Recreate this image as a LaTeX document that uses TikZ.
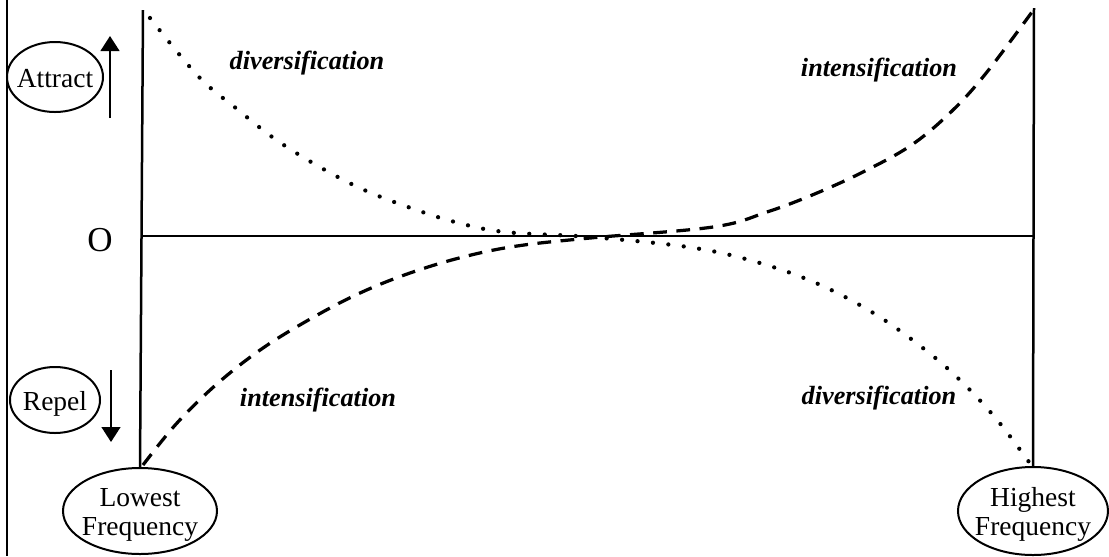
\documentclass[tikz,border=0pt]{standalone}
\usepackage{fontspec}
\setmainfont{Liberation Serif}
\usetikzlibrary{shapes.geometric,arrows.meta}
\newcommand{\ovaltext}[1]{\makebox[0pt]{\raisebox{-4.5pt}[0pt][0pt]{\begin{tabular}{@{}c@{}}#1\end{tabular}}}}
\begin{document}
\begin{tikzpicture}[x=0.4pt,y=-0.4pt,
  axis/.style={line width=1pt},
  oval/.style={draw,ellipse,line width=0.8pt,inner sep=0pt,font=\fontsize{11}{11.5}\selectfont},
  lab/.style={font=\fontsize{10.5}{12}\selectfont\itshape\bfseries,inner sep=0pt},
  dotcurve/.style={line width=1.7pt,line cap=round,dash pattern=on 0pt off 6.2pt},
  dashcurve/.style={line width=1.3pt,dash pattern=on 5.5pt off 3.8pt},
  arr/.style={line width=0.9pt,-{Triangle[length=6pt,width=7.5pt]}}]
\useasboundingbox (0,0) rectangle (1109,556);
% frame line
\coordinate (ftop) at (7,0);
\coordinate (fbot) at (7,556);
\draw[line width=0.9pt] (ftop) -- (fbot);
% ovals
\node[oval,minimum width=96*0.4pt,minimum height=70*0.4pt] (attract) at (55,77) {\ovaltext{Attract}};
\node[oval,minimum width=90*0.4pt,minimum height=66*0.4pt] (repel) at (55,400) {\ovaltext{Repel}};
\node[oval,minimum width=154*0.4pt,minimum height=86*0.4pt] (lowest) at (140,511) {\ovaltext{Lowest\\Frequency}};
\node[oval,minimum width=150*0.4pt,minimum height=88*0.4pt] (highest) at (1033,511) {\ovaltext{Highest\\Frequency}};
% axes
\coordinate (ltop) at (143,10);
\coordinate (rtop) at (1034,8);
\draw[axis] (ltop) -- (lowest.north);
\draw[axis] (rtop) -- (highest.north);
\coordinate (hl) at (143,236);
\coordinate (hr) at (1034,236);
\draw[axis] (hl) -- (hr);
\node[font=\fontsize{14}{16}\selectfont,inner sep=0pt] (O) at (100,240) {O};
% arrows
\coordinate (ua) at (110,118);
\coordinate (ub) at (110,36);
\draw[arr] (ua) -- (ub);
\coordinate (da) at (111,370);
\coordinate (db) at (111,442);
\draw[arr] (da) -- (db);
% curves
\draw[dotcurve] plot[smooth,tension=0.6] coordinates {(150,18) (198,76) (237,109) (275,139) (318,166) (362,189) (408,207) (455,222) (505,232) (590,237) (688,247) (753,261) (816,283) (875,314) (928,352) (965,385) (998,421) (1029,462)};
\draw[dashcurve] plot[smooth,tension=0.6] coordinates {(143,465) (177,423) (218,383) (263,348) (312,318) (360,293) (410,273) (463,257) (517,246) (590,238) (713,227) (767,212) (817,193) (867,170) (913,144) (953,110) (987,72) (1032,12)};
% labels
\node[lab] (div1) at (307,63) {diversification};
\node[lab] (int1) at (879,70) {intensification};
\node[lab] (int2) at (318,400) {intensification};
\node[lab] (div2) at (879,398) {diversification};
\end{tikzpicture}
\end{document}
